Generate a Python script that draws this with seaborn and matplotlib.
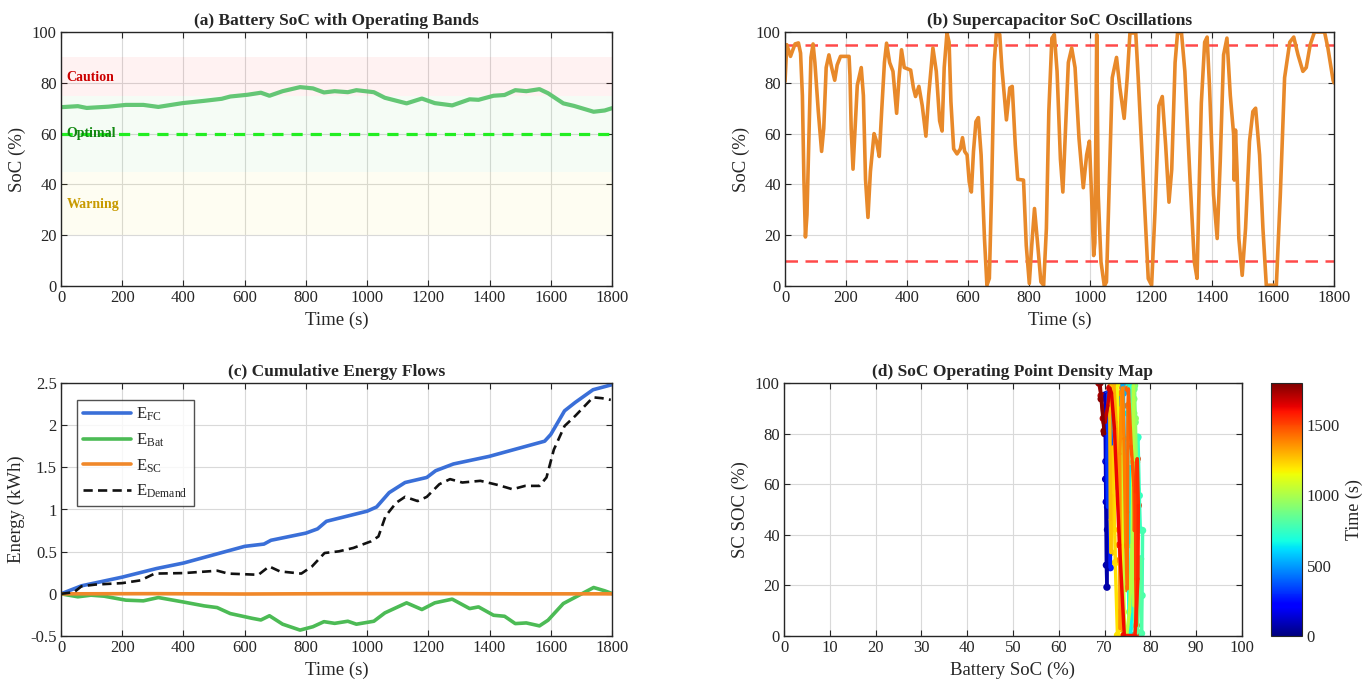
import numpy as np
import pandas as pd
import matplotlib
matplotlib.use("Agg")
import matplotlib.pyplot as plt
from matplotlib.collections import LineCollection
from matplotlib.ticker import FuncFormatter
import seaborn as sns

# ---------------- data ----------------
bat_t = [0, 55, 84, 155, 212, 269, 318, 397, 468, 525, 553, 610, 653, 681, 724, 781, 823,
         859, 894, 937, 965, 1022, 1058, 1129, 1179, 1221, 1278, 1335, 1364, 1413, 1449,
         1484, 1520, 1563, 1591, 1641, 1676, 1740, 1776, 1800]
bat_soc = [70.4, 70.8, 70.1, 70.6, 71.3, 71.3, 70.5, 72.0, 72.9, 73.7, 74.6, 75.3, 76.1, 74.9,
           76.7, 78.3, 77.8, 76.2, 76.7, 76.3, 77.1, 76.3, 74.1, 71.9, 73.8, 72.0, 71.1, 73.5,
           73.3, 74.9, 75.2, 77.1, 76.7, 77.5, 75.9, 71.9, 70.9, 68.6, 69.1, 70.0]

sc_t = [0, 6, 18, 33, 44, 51, 57, 62, 67, 72, 79, 85, 92, 98, 109, 120, 127, 135, 144, 153,
        163, 171, 182, 210, 213, 217, 223, 228, 237, 250, 257, 264, 272, 280, 292, 300, 309,
        317, 326, 333, 343, 354, 361, 366, 374, 382, 391, 412, 421, 428, 439, 450, 462, 471,
        485, 496, 507, 515, 522, 531, 538, 544, 553, 564, 575, 582, 589, 597, 604, 611, 618,
        626, 634, 643, 654, 662, 670, 677, 686, 693, 704, 711, 726, 737, 745, 755, 763, 782,
        791, 801, 809, 818, 828, 839, 848, 857, 865, 875, 883, 892, 903, 911, 920, 929, 940,
        951, 964, 978, 989, 998, 1005, 1012, 1016, 1022, 1027, 1036, 1047, 1054, 1062, 1073,
        1087, 1098, 1112, 1122, 1131, 1150, 1158, 1177, 1191, 1202, 1213, 1226, 1237, 1248,
        1259, 1268, 1279, 1287, 1300, 1311, 1328, 1342, 1351, 1356, 1365, 1376, 1384, 1392,
        1405, 1417, 1427, 1438, 1449, 1460, 1471, 1473, 1477, 1482, 1488, 1499, 1510, 1523,
        1534, 1543, 1556, 1567, 1578, 1611, 1624, 1638, 1655, 1668, 1682, 1698, 1709, 1722,
        1736, 1769, 1780, 1797, 1800]
sc_soc = [80.5, 95, 90.4, 95.3, 95.7, 91.7, 75, 42, 19.3, 28, 62, 90, 95.3, 88, 69, 53, 62,
          86, 91, 86, 81, 87, 90.4, 90.4, 83, 62, 46, 58, 79, 86, 75, 42, 27, 45, 60, 57, 51,
          69, 88, 95.6, 88, 84.5, 75, 68, 82, 93, 86, 85, 78, 74.6, 78.6, 71, 59, 75, 93.7,
          84.5, 65, 61, 86, 99.6, 96, 72.6, 54, 52, 54, 58.4, 53, 51.6, 41, 37, 53, 64.7, 66.3,
          51.6, 18.7, 0.3, 3, 36, 88, 99.6, 99, 86, 65.4, 78, 78.6, 55.5, 42, 41.7, 16, 1,
          16, 30.5, 17, 1.6, 0.3, 22.6, 68.7, 97.6, 99, 84.5, 50, 37, 62, 88, 93.7, 86, 58,
          38.7, 51.6, 57, 36, 12, 17, 99, 36, 9.5, 0, 1.6, 36, 82, 90, 78, 66, 82, 99.6, 99.6,
          82, 36, 2.9, 0.3, 29, 71, 74.6, 55.5, 33, 46, 88, 99.6, 99.6, 84.5, 42, 9.5, 3, 30,
          72, 96, 98, 78, 36, 18.7, 49, 91, 97.6, 75, 59.5, 41.7, 61.4, 46, 18.7, 4.2, 22.6,
          57, 68.7, 70, 51.6, 22.6, 0.3, 0.3, 36, 82, 96, 98, 91, 84.5, 86, 95, 100, 100,
          93.7, 81, 80]
sc_limits = [95, 10]

fc_t = [0, 67, 200, 312, 400, 600, 663, 686, 800, 838, 867, 1000, 1031, 1072, 1124, 1195,
        1224, 1282, 1399, 1580, 1600, 1645, 1680, 1738, 1800]
e_fc = [0.0, 0.095, 0.198, 0.30, 0.365, 0.563, 0.59, 0.635, 0.72, 0.77, 0.86, 0.98, 1.03,
        1.20, 1.32, 1.38, 1.46, 1.54, 1.63, 1.81, 1.89, 2.17, 2.27, 2.42, 2.48]

bat_e_t = [0, 55, 98, 141, 212, 269, 318, 397, 468, 510, 553, 624, 653, 681, 724, 781, 823,
           859, 894, 937, 965, 1022, 1058, 1129, 1179, 1221, 1278, 1335, 1364, 1413, 1449,
           1484, 1520, 1563, 1591, 1641, 1676, 1740, 1776, 1800]
e_bat = [0.0, -0.035, -0.016, -0.028, -0.075, -0.083, -0.044, -0.095, -0.143, -0.163, -0.234,
         -0.29, -0.31, -0.26, -0.36, -0.43, -0.39, -0.33, -0.35, -0.325, -0.36, -0.325, -0.226,
         -0.107, -0.186, -0.107, -0.063, -0.175, -0.155, -0.254, -0.266, -0.353, -0.345, -0.38,
         -0.313, -0.115, -0.048, 0.075, 0.036, 0.004]

sc_e_t = [0, 300, 600, 900, 1200, 1500, 1800]
e_sc = [0.0, 0.002, -0.002, 0.002, 0.003, 0.0, 0.0]

dem_t = [0, 43, 67, 113, 200, 260, 306, 400, 511, 546, 645, 680, 715, 785, 820, 861, 908, 955,
         1013, 1037, 1060, 1095, 1124, 1165, 1195, 1236, 1271, 1311, 1370, 1428, 1475, 1516,
         1563, 1586, 1610, 1645, 1680, 1738, 1767, 1796]
e_dem = [0.0, 0.02, 0.09, 0.11, 0.127, 0.16, 0.24, 0.246, 0.274, 0.24, 0.226, 0.325, 0.266,
         0.24, 0.325, 0.484, 0.504, 0.544, 0.623, 0.68, 0.92, 1.08, 1.15, 1.10, 1.15, 1.30,
         1.36, 1.32, 1.34, 1.29, 1.24, 1.28, 1.28, 1.38, 1.71, 1.99, 2.11, 2.33, 2.32, 2.30]

legend_labels = [r'$\mathregular{E_{FC}}$', r'$\mathregular{E_{Bat}}$',
                 r'$\mathregular{E_{SC}}$', r'$\mathregular{E_{Demand}}$']

# ---------------- style ----------------
sns.set_style("ticks")
plt.rcParams['font.family'] = ['Liberation Serif', 'DejaVu Serif']
plt.rcParams['mathtext.fontset'] = 'custom'
plt.rcParams['mathtext.rm'] = 'Liberation Serif'
plt.rcParams['xtick.direction'] = 'in'
plt.rcParams['ytick.direction'] = 'in'

jet = matplotlib.colormaps['jet']

fig = plt.figure(figsize=(13.64, 6.88), dpi=100)
W, H = 1364, 688


def box(l, t, r, b):
    return [l / W, 1 - b / H, (r - l) / W, (b - t) / H]


def style(ax):
    ax.grid(True, color='#d9d9d9', linewidth=0.8)
    ax.set_axisbelow(True)
    for s in ax.spines.values():
        s.set_color('#262626')
        s.set_linewidth(1.0)
    ax.tick_params(axis='both', which='both', top=True, right=True, labelsize=12,
                   color='#262626', length=4, labelcolor='#262626', pad=3)


ax_a = fig.add_axes(box(61, 32, 612, 286))
ax_b = fig.add_axes(box(785, 32, 1334, 286))
ax_c = fig.add_axes(box(61, 383, 612, 636))
ax_d = fig.add_axes(box(784, 383, 1242, 636))
cax = fig.add_axes(box(1271, 383, 1302, 636))

title_kw = dict(fontsize=12.5, fontweight='bold', pad=5)

# ---- (a) ----
ax_a.axhspan(75, 90, color='#ff0000', alpha=0.05, lw=0)
ax_a.axhspan(45, 75, color='#00c000', alpha=0.04, lw=0)
ax_a.axhspan(20, 45, color='#f0e000', alpha=0.05, lw=0)
ax_a.axhline(60, color='#22ee22', lw=2.3, ls=(0, (3.5, 2.5)))
sns.lineplot(x=bat_t, y=bat_soc, ax=ax_a, color='#5cc46e', lw=3, alpha=0.95)
ax_a.text(18, 82, 'Caution', color='#cc0000', fontsize=10, fontweight='bold', va='center')
ax_a.text(18, 60, 'Optimal', color='#118811', fontsize=10, fontweight='bold', va='center')
ax_a.text(18, 32, 'Warning', color='#c89a00', fontsize=10, fontweight='bold', va='center')
ax_a.set_xlim(0, 1800)
ax_a.set_ylim(0, 100)
ax_a.set_xticks(range(0, 1801, 200))
ax_a.set_yticks(range(0, 101, 20))
ax_a.set_xlabel('Time (s)', fontsize=13.5)
ax_a.set_ylabel('SoC (%)', fontsize=13.5)
ax_a.set_title('(a) Battery SoC with Operating Bands', **title_kw)
style(ax_a)

# ---- (b) ----
for lim in sc_limits:
    ax_b.axhline(lim, color='#ff2a2a', lw=1.8, ls=(0, (5, 3)), alpha=0.85)
sns.lineplot(x=sc_t, y=sc_soc, ax=ax_b, color='#e8892a', lw=2.6)
ax_b.set_xlim(0, 1800)
ax_b.set_ylim(0, 100)
ax_b.set_xticks(range(0, 1801, 200))
ax_b.set_yticks(range(0, 101, 20))
ax_b.set_xlabel('Time (s)', fontsize=13.5)
ax_b.set_ylabel('SoC (%)', fontsize=13.5)
ax_b.set_title('(b) Supercapacitor SoC Oscillations', **title_kw)
style(ax_b)

# ---- (c) ----
sns.lineplot(x=fc_t, y=e_fc, ax=ax_c, color='#3a6fd8', lw=2.6, label=legend_labels[0])
sns.lineplot(x=bat_e_t, y=e_bat, ax=ax_c, color='#4cbb55', lw=2.6, label=legend_labels[1])
sns.lineplot(x=sc_e_t, y=e_sc, ax=ax_c, color='#f0882a', lw=2.6, label=legend_labels[2])
sns.lineplot(x=dem_t, y=e_dem, ax=ax_c, color='#111111', lw=1.9, ls=(0, (3.5, 2)),
             label=legend_labels[3])
ax_c.set_xlim(0, 1800)
ax_c.set_ylim(-0.5, 2.5)
ax_c.set_xticks(range(0, 1801, 200))
ax_c.set_yticks([-0.5, 0, 0.5, 1, 1.5, 2, 2.5])
ax_c.yaxis.set_major_formatter(FuncFormatter(lambda v, p: '%g' % v))
ax_c.set_xlabel('Time (s)', fontsize=13.5)
ax_c.set_ylabel('Energy (kWh)', fontsize=13.5)
ax_c.set_title('(c) Cumulative Energy Flows', **title_kw)
leg = ax_c.legend(loc='upper left', bbox_to_anchor=(0.029, 0.933), borderaxespad=0,
                  fontsize=12, handlelength=2.9, handletextpad=0.3, labelspacing=0.5,
                  frameon=True, fancybox=False, borderpad=0.35)
leg.get_frame().set_edgecolor('#262626')
leg.get_frame().set_linewidth(1.0)
style(ax_c)

# ---- (d) ----
bat_at_sc = np.interp(sc_t, bat_t, bat_soc)
pts = np.column_stack([bat_at_sc, sc_soc])
segs = np.stack([pts[:-1], pts[1:]], axis=1)
seg_time = (np.array(sc_t[:-1]) + np.array(sc_t[1:])) / 2
norm = plt.Normalize(0, 1800)
lc = LineCollection(segs, cmap=jet, norm=norm, linewidths=2.5, capstyle='round')
lc.set_array(seg_time)
ax_d.add_collection(lc)
sns.scatterplot(x=bat_at_sc, y=sc_soc, hue=sc_t, palette=jet, hue_norm=norm,
                legend=False, s=28, linewidth=0, ax=ax_d)
ax_d.set_xlim(0, 100)
ax_d.set_ylim(0, 100)
ax_d.set_xticks(range(0, 101, 10))
ax_d.set_yticks(range(0, 101, 20))
ax_d.set_xlabel('Battery SoC (%)', fontsize=13.5)
ax_d.set_ylabel('SC SOC (%)', fontsize=13.5)
ax_d.set_title('(d) SoC Operating Point Density Map', **title_kw)
style(ax_d)

sm = plt.cm.ScalarMappable(norm=norm, cmap=jet)
cb = fig.colorbar(sm, cax=cax)
cb.set_ticks([0, 500, 1000, 1500])
cb.ax.tick_params(labelsize=12, direction='out', length=0, colors='#262626')
cb.outline.set_edgecolor('#262626')
cb.set_label('Time (s)', fontsize=13, labelpad=4)

fig.savefig('out.png', dpi=100)
